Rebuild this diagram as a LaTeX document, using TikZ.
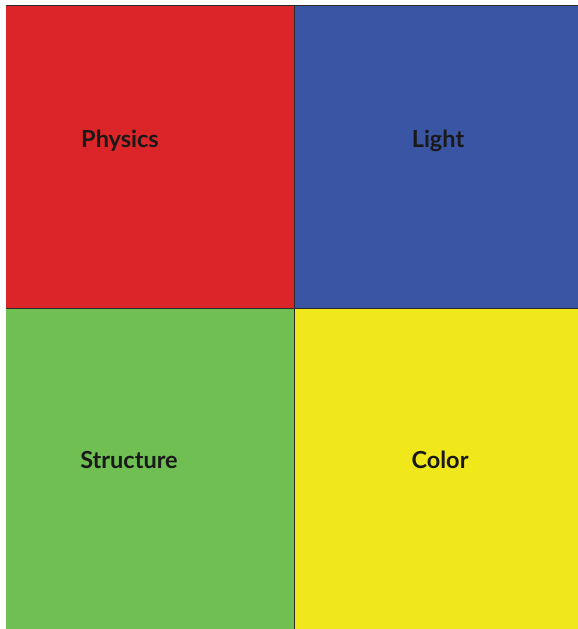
\documentclass[tikz,border=0pt]{standalone}
\usepackage{fontspec}
\setmainfont{Lato}
\definecolor{quadred}{HTML}{DC2528}
\definecolor{quadblue}{HTML}{3A55A4}
\definecolor{quadgreen}{HTML}{6FBF53}
\definecolor{quadyellow}{HTML}{F0E81A}
\definecolor{edgegray}{HTML}{2A2A2A}
\usetikzlibrary{positioning}
\tikzset{
  quad/.style={fill=#1, draw=none, inner sep=0pt, outer sep=0pt,
    minimum width=288pt, minimum height=303pt, anchor=north west},
  lbl/.style={font=\fontsize{23.5}{28}\selectfont\bfseries, text=black!90},
  sep/.style={draw=edgegray, line width=0.8pt},
}
\begin{document}
\begin{tikzpicture}[x=1pt, y=1pt]
  \useasboundingbox (0,0) rectangle (578,629);
  % Quadrants
  \node[quad=quadred] (physq) at (6,624) {};
  \node[quad=quadblue, minimum width=284pt] (lightq) at (294,624) {};
  \node[quad=quadgreen, minimum height=321pt] (structq) at (6,321) {};
  \node[quad=quadyellow, minimum width=284pt, minimum height=321pt] (colorq) at (294,321) {};

  % Labels
  \node[lbl] (phys) at (120,488) {Physics};
  \node[lbl] (light) at (438,488) {Light};
  \node[lbl] (struct) at (129,169) {Structure};
  \node[lbl] (color) at (440,169) {Color};

  % Edges
  \draw[sep] (physq.north west) -- (lightq.north east);
  \draw[sep] (physq.south west) -- (lightq.south east);
  \draw[sep] (lightq.north west) -- (colorq.south west);
\end{tikzpicture}
\end{document}
